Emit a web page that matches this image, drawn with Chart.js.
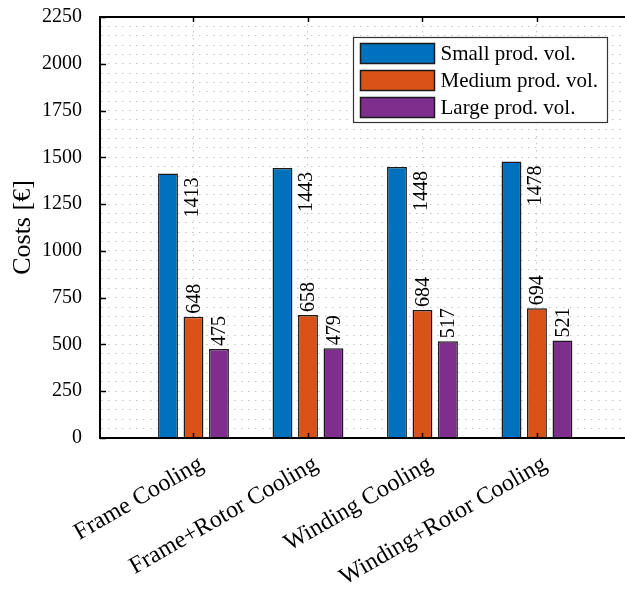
<!DOCTYPE html>
<html>
<head>
<meta charset="utf-8">
<script src="https://cdn.jsdelivr.net/npm/chart.js@4/dist/chart.umd.min.js"></script>
<style>
  html, body { margin: 0; padding: 0; background: #fff; overflow: hidden; }
  #wrap { width: 625px; height: 592px; overflow: hidden; }
</style>
</head>
<body>
<div id="wrap"><canvas id="costChart" width="660" height="592"></canvas></div>
<script>
// data
const categories = ["Frame Cooling", "Frame+Rotor Cooling", "Winding Cooling", "Winding+Rotor Cooling"];
const seriesNames = ["Small prod. vol.", "Medium prod. vol.", "Large prod. vol."];
const smallVol = [1413, 1443, 1448, 1478];
const mediumVol = [648, 658, 684, 694];
const largeVol = [475, 479, 517, 521];
const yTicks = [0, 250, 500, 750, 1000, 1250, 1500, 1750, 2000, 2250];

const colors = ["#0072BD", "#D95319", "#7E2F8E"];
const FONT = "'Liberation Serif', 'Times New Roman', serif";
const gridColor = "#c4c4c4";

function toPoints(arr) {
    return arr.map((v, i) => ({ x: i + 1, y: v }));
}

// value labels, rotated like the matlab text()
const valueLabels = {
    id: "valueLabels",
    afterDatasetsDraw(chart) {
        const ctx = chart.ctx;
        ctx.save();
        ctx.font = "20px " + FONT;
        ctx.fillStyle = "#000";
        ctx.textBaseline = "middle";
        chart.data.datasets.forEach((ds, di) => {
            const meta = chart.getDatasetMeta(di);
            meta.data.forEach((bar, i) => {
                const val = ds.data[i].y;
                ctx.save();
                if (di === 0) {
                    ctx.translate(bar.x + 23.5, bar.y + 4);
                    ctx.rotate(-Math.PI / 2);
                    ctx.textAlign = "right";
                } else {
                    ctx.translate(bar.x, bar.y - 3);
                    ctx.rotate(-Math.PI / 2);
                    ctx.textAlign = "left";
                }
                ctx.fillText(String(val), 0, 1);
                ctx.restore();
            });
        });
        ctx.restore();
    }
};

// box, inward ticks and legend drawn on top
const boxAndLegend = {
    id: "boxAndLegend",
    afterDraw(chart) {
        const ctx = chart.ctx;
        const a = chart.chartArea;
        const xs = chart.scales.x, ys = chart.scales.y;
        ctx.save();
        ctx.strokeStyle = "#000";
        ctx.lineWidth = 2;
        ctx.beginPath();
        ctx.moveTo(a.left, a.bottom);
        ctx.lineTo(a.left, a.top);
        ctx.lineTo(a.right, a.top);
        ctx.lineTo(a.right, a.bottom);
        ctx.lineTo(a.left, a.bottom);
        ctx.stroke();

        ctx.lineWidth = 1.5;
        yTicks.forEach(v => {
            const py = Math.round(ys.getPixelForValue(v)) + 0.5;
            ctx.beginPath();
            ctx.moveTo(a.left, py);
            ctx.lineTo(a.left + 6, py);
            ctx.moveTo(a.right, py);
            ctx.lineTo(a.right - 6, py);
            ctx.stroke();
        });
        categories.forEach((c, i) => {
            const px = Math.round(xs.getPixelForValue(i + 1)) + 0.5;
            ctx.beginPath();
            ctx.moveTo(px, a.bottom);
            ctx.lineTo(px, a.bottom - 5);
            ctx.moveTo(px, a.top);
            ctx.lineTo(px, a.top + 5);
            ctx.stroke();
        });

        // legend
        const lx = 353.5, ly = a.top + 20.5, lw = 254, lh = 85;
        ctx.fillStyle = "#fff";
        ctx.fillRect(lx, ly, lw, lh);
        ctx.strokeStyle = "#333";
        ctx.lineWidth = 1.2;
        ctx.strokeRect(lx, ly, lw, lh);
        ctx.font = "21px " + FONT;
        ctx.textBaseline = "middle";
        ctx.textAlign = "left";
        chart.data.datasets.forEach((ds, i) => {
            const cy = ly + 16 + i * 27;
            ctx.fillStyle = ds.backgroundColor;
            ctx.fillRect(lx + 7, cy - 10, 74, 20);
            ctx.strokeStyle = "#1a1a1a";
            ctx.lineWidth = 1.5;
            ctx.strokeRect(lx + 7, cy - 10, 74, 20);
            ctx.fillStyle = "#000";
            ctx.fillText(ds.label, lx + 87, cy + 1);
        });
        ctx.restore();
    }
};

const ctx = document.getElementById("costChart").getContext("2d");
new Chart(ctx, {
    type: "bar",
    data: {
        datasets: [smallVol, mediumVol, largeVol].map((arr, i) => ({
            label: seriesNames[i],
            data: toPoints(arr),
            backgroundColor: colors[i],
            borderColor: "#1a1a1a",
            borderWidth: 1.5,
            categoryPercentage: 0.668,
            barPercentage: 0.78
        }))
    },
    options: {
        responsive: false,
        animation: false,
        devicePixelRatio: 1,
        layout: { padding: { top: 17, right: 20, left: 0, bottom: 0 } },
        plugins: {
            legend: { display: false },
            tooltip: { enabled: false }
        },
        scales: {
            x: {
                type: "linear",
                min: 0.1834,
                max: 4.9,
                offset: false,
                afterBuildTicks: scale => {
                    scale.ticks = categories.map((c, i) => ({ value: i + 1 }));
                },
                afterFit: scale => {
                    scale.height = 154;
                    scale.paddingLeft = 0;
                    scale.paddingRight = 0;
                },
                ticks: {
                    autoSkip: false,
                    minRotation: 30,
                    maxRotation: 30,
                    padding: 12,
                    labelOffset: 8,
                    color: "#000",
                    font: { family: FONT, size: 24 },
                    callback: v => categories[v - 1] || ""
                },
                grid: { color: gridColor, lineWidth: 1, drawTicks: false, offset: false },
                border: { display: true, color: "#000", width: 2, dash: [1.5, 5.5] }
            },
            y: {
                min: 0,
                max: 2250,
                afterFit: scale => {
                    scale.width = 100;
                    scale.paddingTop = 0;
                    scale.paddingBottom = 0;
                },
                ticks: {
                    stepSize: 50,
                    autoSkip: false,
                    padding: 18,
                    color: "#000",
                    font: { family: FONT, size: 20 },
                    callback: v => (v % 250 === 0 ? v : "")
                },
                grid: { color: gridColor, lineWidth: 1, drawTicks: false },
                border: { display: true, color: "#000", width: 2, dash: [1.5, 5.5] },
                title: {
                    display: true,
                    text: "Costs [€]",
                    color: "#000",
                    font: { family: FONT, size: 26 },
                    padding: { top: 8, bottom: 0 }
                }
            }
        }
    },
    plugins: [valueLabels, boxAndLegend]
});
</script>
</body>
</html>
